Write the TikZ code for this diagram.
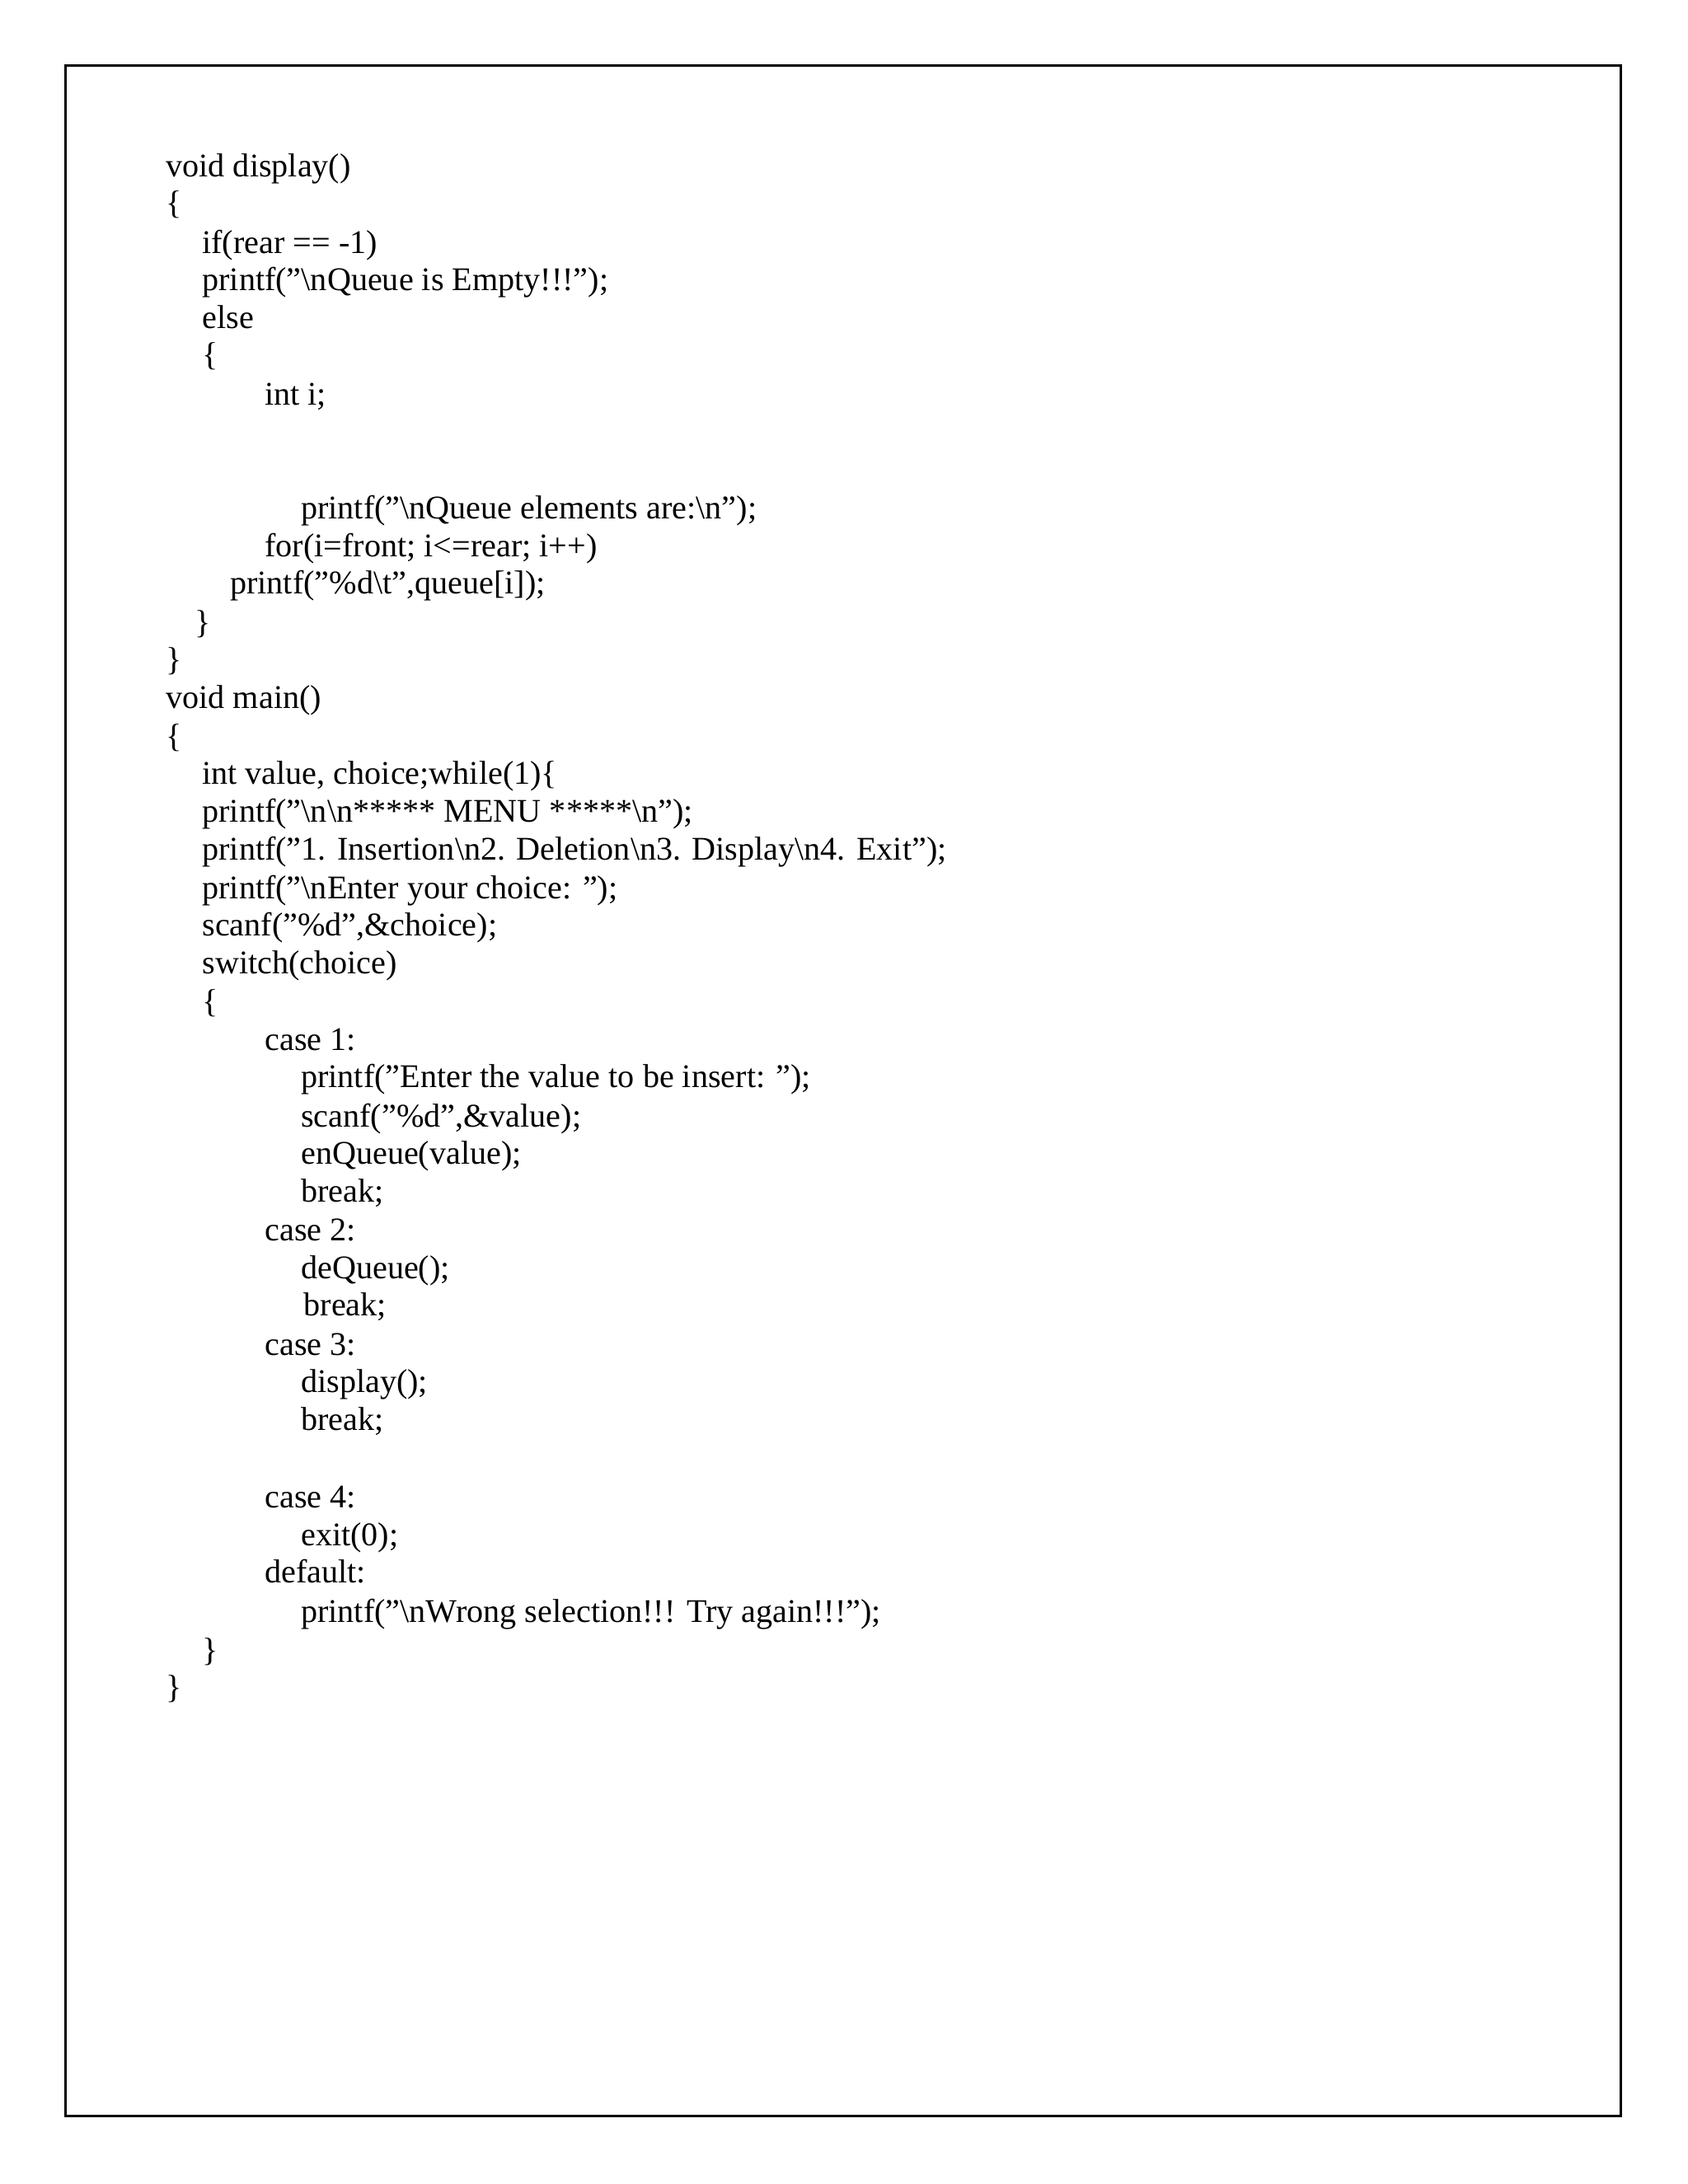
\documentclass[tikz,border=0pt]{standalone}
\usepackage{fontspec}
\setmainfont{Liberation Serif}
\newcommand{\bs}{\textbackslash}
\begin{document}
\begin{tikzpicture}[x=0.5045pt,y=-0.5045pt,
  ln/.style={anchor=base west,inner sep=0pt,font=\fontsize{12}{14}\selectfont}]
\useasboundingbox (0,0) rectangle (1213,1570);
\draw[line width=0.8pt] (47,47) rectangle (1165,1521);
\def\L#1#2#3{\node[ln] at (#1,#2+7) {#3};}
\L{119}{120}{void display()}
\L{119}{147}{\{}
\L{145}{175}{if(rear == -1)}
\L{145}{202}{printf("\bs nQueue is Empty!!!");}
\L{145}{229}{else}
\L{145}{256}{\{}
\L{190}{284}{int i;}
\L{216}{366}{printf("\bs nQueue elements are:\bs n");}
\L{190}{393}{for(i=front; i<=rear; i++)}
\L{165}{420}{printf("\%d\bs t",queue[i]);}
\L{140}{448}{\}}
\L{119}{475}{\}}
\L{119}{502}{void main()}
\L{119}{530}{\{}
\L{145}{557}{int value, choice;while(1)\{}
\L{145}{584}{printf("\bs n\bs n***** MENU *****\bs n");}
\L{145}{611}{printf("1. Insertion\bs n2. Deletion\bs n3. Display\bs n4. Exit");}
\L{145}{639}{printf("\bs nEnter your choice: ");}
\L{145}{666}{scanf("\%d",\&choice);}
\L{145}{693}{switch(choice)}
\L{145}{721}{\{}
\L{190}{748}{case 1:}
\L{216}{775}{printf("Enter the value to be insert: ");}
\L{216}{803}{scanf("\%d",\&value);}
\L{216}{830}{enQueue(value);}
\L{216}{857}{break;}
\L{190}{885}{case 2:}
\L{216}{912}{deQueue();}
\L{218}{939}{break;}
\L{190}{967}{case 3:}
\L{216}{994}{display();}
\L{216}{1021}{break;}
\L{190}{1077}{case 4:}
\L{216}{1104}{exit(0);}
\L{190}{1131}{default:}
\L{216}{1159}{printf("\bs nWrong selection!!! Try again!!!");}
\L{145}{1187}{\}}
\L{119}{1214}{\}}
\end{tikzpicture}
\end{document}
